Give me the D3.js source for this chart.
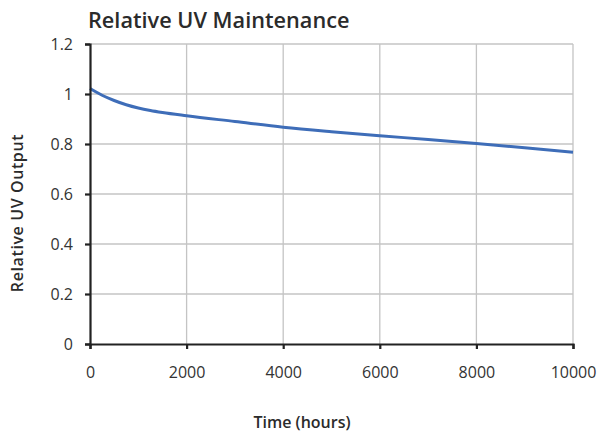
<!DOCTYPE html>
<html>
<head>
<meta charset="utf-8">
<script src="https://cdn.jsdelivr.net/npm/d3@7"></script>
<style>
  body { margin: 0; background: #fff; }
  text { font-family: "Open Sans", sans-serif; fill: #2b2b2b; }
</style>
</head>
<body>
<script>
// values (hours, relative output)
var hours  = [0, 250, 500, 750, 1000, 1250, 1500, 2000, 3000, 4000, 5000, 6000, 7000, 8000, 9000, 10000];
var output = [1.022, 0.995, 0.974, 0.957, 0.944, 0.934, 0.926, 0.913, 0.89, 0.867, 0.849, 0.833, 0.818, 0.802, 0.785, 0.767];
var xTicks = [0, 2000, 4000, 6000, 8000, 10000];
var yTicks = [0, 0.2, 0.4, 0.6, 0.8, 1, 1.2];

var data = hours.map(function(h, i) { return {h: h, v: output[i]}; });

// set the dimensions and margins
var margin = {top: 44, right: 27, bottom: 90, left: 90},
    width = 600 - margin.left - margin.right,
    height = 434 - margin.top - margin.bottom;

var x = d3.scaleLinear().domain([0, 10000]).range([0, width]);
var y = d3.scaleLinear().domain([0, 1.2]).range([height, 0]);

var svg = d3.select("body").append("svg")
    .attr("width", 600)
    .attr("height", 434)
  .append("g")
    .attr("transform", "translate(" + margin.left + "," + margin.top + ")");

// gridlines
svg.selectAll(".hgrid")
    .data(yTicks.slice(1))
  .enter().append("line")
    .attr("x1", 0).attr("x2", width)
    .attr("y1", function(d) { return y(d); })
    .attr("y2", function(d) { return y(d); })
    .attr("stroke", "#c4c4c4").attr("stroke-width", 1.3);

svg.selectAll(".vgrid")
    .data(xTicks.slice(1))
  .enter().append("line")
    .attr("y1", 0).attr("y2", height)
    .attr("x1", function(d) { return x(d); })
    .attr("x2", function(d) { return x(d); })
    .attr("stroke", "#c4c4c4").attr("stroke-width", 1.3);

// the curve
svg.append("path")
    .datum(data)
    .attr("fill", "none")
    .attr("stroke", "#3e6db8")
    .attr("stroke-width", 3)
    .attr("d", d3.line()
        .x(function(d) { return x(d.h); })
        .y(function(d) { return y(d.v); })
        .curve(d3.curveMonotoneX));

// axes
var xAxis = svg.append("g")
    .attr("transform", "translate(0," + height + ")")
    .call(d3.axisBottom(x).tickValues(xTicks).tickSize(5).tickPadding(18).tickFormat(d3.format("d")));

var yAxis = svg.append("g")
    .call(d3.axisLeft(y).tickValues(yTicks).tickSize(5).tickPadding(12).tickFormat(function(d) { return d; }));

[xAxis, yAxis].forEach(function(a) {
    a.select(".domain").attr("stroke", "#222").attr("stroke-width", 2.2);
    a.selectAll(".tick line").attr("stroke", "#222").attr("stroke-width", 2.2);
    a.selectAll(".tick text").style("font-size", "16px").style("fill", "#333")
        .style("font-family", "\"Open Sans\", sans-serif");
});

// titles
svg.append("text")
    .attr("x", -2)
    .attr("y", -16)
    .style("font-size", "21.7px")
    .style("font-weight", "600")
    .text("Relative UV Maintenance");

svg.append("text")
    .attr("x", 212)
    .attr("y", height + 84)
    .style("text-anchor", "middle")
    .style("font-size", "16px")
    .style("font-weight", "600")
    .text("Time (hours)");

svg.append("text")
    .attr("transform", "rotate(-90)")
    .attr("x", -(213 - margin.top))
    .attr("y", -67)
    .style("text-anchor", "middle")
    .style("font-size", "16px")
    .style("font-weight", "600")
    .style("letter-spacing", "0.6px")
    .text("Relative UV Output");
</script>
</body>
</html>
